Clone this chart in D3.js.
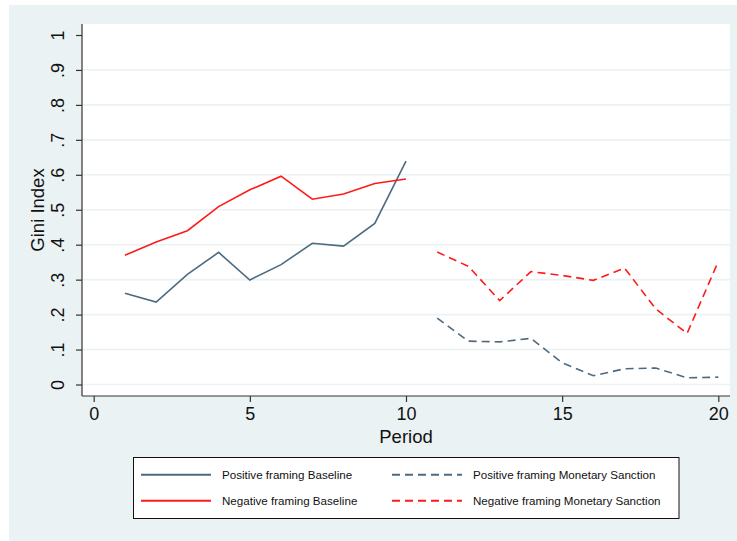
<!DOCTYPE html>
<html>
<head>
<meta charset="utf-8">
<style>
  body { margin: 0; background: #fff; }
  svg { display: block; font-family: "Liberation Sans", Arial, sans-serif; }
</style>
</head>
<body>
<script src="https://d3js.org/d3.v7.min.js"></script>
<svg width="737" height="541"></svg>
<script>
    // periods and Gini values
    const basePeriods = [1, 2, 3, 4, 5, 6, 7, 8, 9, 10]
    const sanctionPeriods = [11, 12, 13, 14, 15, 16, 17, 18, 19, 20]
    const posBaseline = [0.261, 0.236, 0.315, 0.378, 0.299, 0.343, 0.404, 0.396, 0.461, 0.639]
    const negBaseline = [0.370, 0.408, 0.440, 0.509, 0.557, 0.596, 0.530, 0.545, 0.575, 0.588]
    const posSanction = [0.190, 0.124, 0.122, 0.132, 0.062, 0.025, 0.045, 0.047, 0.019, 0.021]
    const negSanction = [0.379, 0.338, 0.240, 0.323, 0.312, 0.298, 0.333, 0.216, 0.146, 0.352]
    const yTicks = [0, 0.1, 0.2, 0.3, 0.4, 0.5, 0.6, 0.7, 0.8, 0.9, 1]
    const xTicks = [0, 5, 10, 15, 20]

    const blue = "#4d6a80"
    const red = "#ff1a1a"
    const grid = "#eaf2f3"

    const svg = d3.select("svg")

    svg.append("rect").attr("x", 9).attr("y", 5).attr("width", 728).attr("height", 536)
        .attr("fill", "#eaf2f3")

    const plot = { left: 82, right: 730, top: 24, bottom: 396 }
    svg.append("rect")
        .attr("x", plot.left).attr("y", plot.top)
        .attr("width", plot.right - plot.left).attr("height", plot.bottom - plot.top)
        .attr("fill", "white")

    const xScale = d3.scaleLinear().domain([0, 20]).range([93.7, 718.3])
    const yScale = d3.scaleLinear().domain([0, 1]).range([384.5, 35])

    // gridlines (none at the very top)
    svg.append("g").selectAll("line")
        .data(yTicks.filter(d => d < 1))
        .enter().append("line")
        .attr("x1", plot.left).attr("x2", plot.right)
        .attr("y1", d => yScale(d)).attr("y2", d => yScale(d))
        .style("stroke", grid).style("stroke-width", "1.6px")

    const fmt = d => d === 0 ? "0" : d === 1 ? "1" : d3.format(".1f")(d).replace(/^0/, "")

    const yAxis = d3.axisLeft(yScale).tickValues(yTicks).tickSize(6).tickPadding(10).tickFormat(fmt)
    const yG = svg.append("g").attr("transform", `translate(${plot.left},0)`).call(yAxis)
    yG.select(".domain").attr("d", `M0,${plot.top}V${plot.bottom}`)
    yG.selectAll(".tick text")
        .attr("transform", "rotate(-90)")
        .attr("x", 0).attr("y", -24)
        .attr("dy", "0.35em")
        .style("text-anchor", "middle")

    const xAxis = d3.axisBottom(xScale).tickValues(xTicks).tickSize(6).tickPadding(5)
    const xG = svg.append("g").attr("transform", `translate(0,${plot.bottom})`).call(xAxis)
    xG.select(".domain").attr("d", `M${plot.left},0H${plot.right}`)

    svg.selectAll(".domain, .tick line").style("stroke", "#333").style("stroke-width", "1.2px")
    svg.selectAll(".tick text").style("font-size", "18px").style("fill", "#111")
        .style("font-family", "\"Liberation Sans\", Arial, sans-serif")

    svg.append("text").attr("x", xScale(10)).attr("y", 443)
        .attr("text-anchor", "middle").style("font-size", "18.5px").style("fill", "#111")
        .text("Period")
    svg.append("text").attr("transform", `translate(44,${(plot.top + plot.bottom) / 2}) rotate(-90)`)
        .attr("text-anchor", "middle").style("font-size", "18.5px").style("fill", "#111")
        .text("Gini Index")

    const series = [
        { name: "Positive framing Baseline", x: basePeriods, y: posBaseline, color: blue, dash: null },
        { name: "Negative framing Baseline", x: basePeriods, y: negBaseline, color: red, dash: null },
        { name: "Positive framing Monetary Sanction", x: sanctionPeriods, y: posSanction, color: blue, dash: "8,5" },
        { name: "Negative framing Monetary Sanction", x: sanctionPeriods, y: negSanction, color: red, dash: "8,5" }
    ]

    const line = d3.line().x(d => xScale(d[0])).y(d => yScale(d[1]))
    svg.append("g").selectAll("path")
        .data(series)
        .enter().append("path")
        .attr("d", s => line(s.x.map((p, i) => [p, s.y[i]])))
        .attr("fill", "none")
        .style("stroke", s => s.color)
        .style("stroke-width", "1.6px")
        .style("stroke-dasharray", s => s.dash)

    // legend
    svg.append("rect").attr("x", 133.5).attr("y", 457.5).attr("width", 545.5).attr("height", 61)
        .attr("fill", "white").style("stroke", "#111").style("stroke-width", "1px")

    const legendPos = [
        { x: 141, y: 474.7 }, { x: 141, y: 500.7 },
        { x: 392, y: 474.7 }, { x: 392, y: 500.7 }
    ]
    const lg = svg.append("g").selectAll("g")
        .data(series)
        .enter().append("g")
        .attr("transform", (s, i) => `translate(${legendPos[i].x},${legendPos[i].y})`)
    lg.append("line")
        .attr("x1", 0).attr("x2", 70).attr("y1", 0).attr("y2", 0)
        .style("stroke", s => s.color).style("stroke-width", "2px")
        .style("stroke-dasharray", s => s.dash)
    lg.append("text")
        .attr("x", 81)
        .attr("dy", "0.35em")
        .style("font-size", "11.6px").style("fill", "#111")
        .text(s => s.name)
</script>
</body>
</html>
